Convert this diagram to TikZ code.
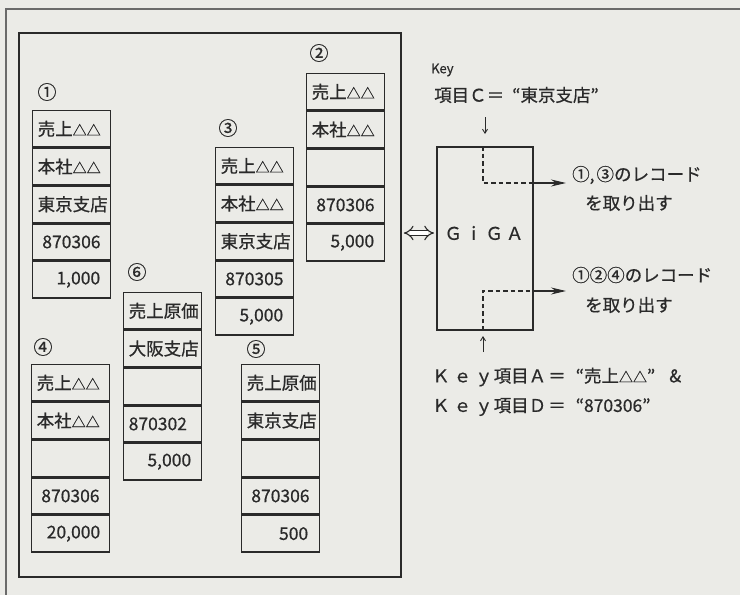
\documentclass[tikz,border=0pt]{standalone}
\usepackage{fontspec}
\setmainfont{Noto Sans CJK JP}[FakeBold=0.6]
\usetikzlibrary{arrows.meta,positioning}
\definecolor{paper}{HTML}{EBEBE7}
\definecolor{ink}{HTML}{2A2A2A}
\newcommand\fsz{\fontsize{17.5}{19}\selectfont}
\newcommand\tri{{\fontsize{14}{14}\selectfont △△}}
\tikzset{
  cell/.style={draw=ink, line width=1.4pt, minimum width=77.5pt, minimum height=36.3pt,
    inner ysep=0pt, inner xsep=5pt, text width=67.5pt, font=\fsz, text=ink},
  kj/.style={cell, align=left},
  num/.style={cell, align=center},
  amt/.style={cell, align=right},
  rlbl/.style={font=\fontsize{19}{20}\selectfont, text=ink, inner sep=0pt},
  txt/.style={font=\fsz, text=ink, inner sep=0pt, anchor=west},
  frm/.style={draw=ink, line width=1.8pt, inner sep=0pt},
  keyarr/.style={draw=ink, line width=0.9pt, -{Straight Barb[length=4pt,width=5pt]}},
  outarr/.style={draw=ink, line width=1.3pt, -{Stealth[length=15pt,width=7pt]}},
  dsh/.style={draw=ink, line width=1.4pt, dash pattern=on 4.5pt off 3pt}
}
\begin{document}
\begin{tikzpicture}[x=1pt,y=-1pt]
\fill[paper] (0,0) rectangle (740,595);
\useasboundingbox (0,0) rectangle (740,595);
% page border
\draw[ink!70, line width=1.2pt] (6,595) -- (6,9) -- (740,9);
% inner frame
\node[frm, minimum width=382pt, minimum height=544pt, anchor=north west] (frame) at (18,32) {};

% record 1
\node[kj, anchor=north west] (r1a) at (32,110) {売上\tri};
\node[kj, below=0pt of r1a] (r1b) {本社\tri};
\node[kj, below=0pt of r1b] (r1c) {東京支店};
\node[num, below=0pt of r1c] (r1d) {870306};
\node[amt, below=0pt of r1d] (r1e) {1,000\hspace*{5pt}};
\node[rlbl] (l1) at (47,92) {①};

% record 2
\node[kj, anchor=north west] (r2a) at (306,73) {売上\tri};
\node[kj, below=0pt of r2a] (r2b) {本社\tri};
\node[kj, below=0pt of r2b] (r2c) {\phantom{東}};
\node[num, below=0pt of r2c] (r2d) {870306};
\node[amt, below=0pt of r2d] (r2e) {5,000\hspace*{5pt}};
\node[rlbl] (l2) at (319,53) {②};

% record 3
\node[kj, anchor=north west] (r3a) at (215,147) {売上\tri};
\node[kj, below=0pt of r3a] (r3b) {本社\tri};
\node[kj, below=0pt of r3b] (r3c) {東京支店};
\node[num, below=0pt of r3c] (r3d) {870305};
\node[amt, below=0pt of r3d] (r3e) {5,000\hspace*{5pt}};
\node[rlbl] (l3) at (228,128) {③};

% record 6
\node[kj, anchor=north west] (r6a) at (123,292) {売上原価};
\node[kj, below=0pt of r6a] (r6b) {大阪支店};
\node[kj, below=0pt of r6b] (r6c) {\phantom{東}};
\node[kj, below=0pt of r6c] (r6d) {870302};
\node[amt, below=0pt of r6d] (r6e) {5,000\hspace*{5pt}};
\node[rlbl] (l6) at (137,272) {⑥};

% record 4
\node[kj, anchor=north west] (r4a) at (31,364) {売上\tri};
\node[kj, below=0pt of r4a] (r4b) {本社\tri};
\node[kj, below=0pt of r4b] (r4c) {\phantom{東}};
\node[num, below=0pt of r4c] (r4d) {870306};
\node[amt, below=0pt of r4d] (r4e) {20,000\hspace*{4pt}};
\node[rlbl] (l4) at (43,347) {④};

% record 5
\node[kj, anchor=north west] (r5a) at (241,364) {売上原価};
\node[kj, below=0pt of r5a] (r5b) {東京支店};
\node[kj, below=0pt of r5b] (r5c) {\phantom{東}};
\node[num, below=0pt of r5c] (r5d) {870306};
\node[amt, below=0pt of r5d] (r5e) {500\hspace*{6pt}};
\node[rlbl] (l5) at (256,349) {⑤};

% GiGA box
\node[frm, minimum width=96pt, minimum height=183pt, anchor=north west] (giga) at (436,146) {};
\node[font=\fsz, text=ink, inner sep=0pt] (gigatext) at (484,233) {Ｇ\hspace{3pt}ｉ\hspace{3pt}Ｇ\hspace{3pt}Ａ};

% double arrow between frame and GiGA
\draw[ink, line width=1.1pt, double, double distance=4pt, {Implies}-{Implies}]
  ([xshift=2pt]frame.east |- gigatext) -- ([xshift=-2pt]giga.west |- gigatext);

% key texts
\node[font=\fontsize{13}{14}\selectfont, text=ink, inner sep=0pt, anchor=west] (key) at (431,70) {Key};
\node[txt] (keyc) at (434,95) {項目Ｃ＝\hspace{8pt}“東京支店”};
\coordinate (ka1) at (485,117);
\coordinate (ka2) at (485,134);
\draw[keyarr] (ka1) -- (ka2);

\node[txt] (keya) at (432,377) {Ｋ\hspace{4pt}ｅ\hspace{4pt}ｙ\hspace{1pt}項目Ａ\hspace{2pt}＝\hspace{10pt}“売上\tri”\hspace{14pt}\&};
\node[txt] (keyd) at (432,407) {Ｋ\hspace{4pt}ｅ\hspace{4pt}ｙ\hspace{1pt}項目Ｄ\hspace{2pt}＝\hspace{10pt}“870306”};
\coordinate (kb1) at (483,352);
\coordinate (kb2) at (483,336);
\draw[keyarr] (kb1) -- (kb2);

% dashed paths and output arrows
\coordinate (c1) at (483,183);
\coordinate (c2) at (483,291);
\coordinate (e1) at (566,183);
\coordinate (e2) at (566,291);
\draw[dsh] (c1 |- giga.north) -- (c1) -- (giga.east |- c1);
\draw[outarr] (giga.east |- c1) -- (e1);
\draw[dsh] (c2 |- giga.south) -- (c2) -- (giga.east |- c2);
\draw[outarr] (giga.east |- c2) -- (e2);

% result texts
\node[txt] (o1) at (572,175) {①,\hspace{2pt}③のレコード};
\node[txt] (o1b) at (585,203) {を取り出す};
\node[txt] (o2) at (572,275) {①②④のレコード};
\node[txt] (o2b) at (585,305) {を取り出す};
\end{tikzpicture}
\end{document}
